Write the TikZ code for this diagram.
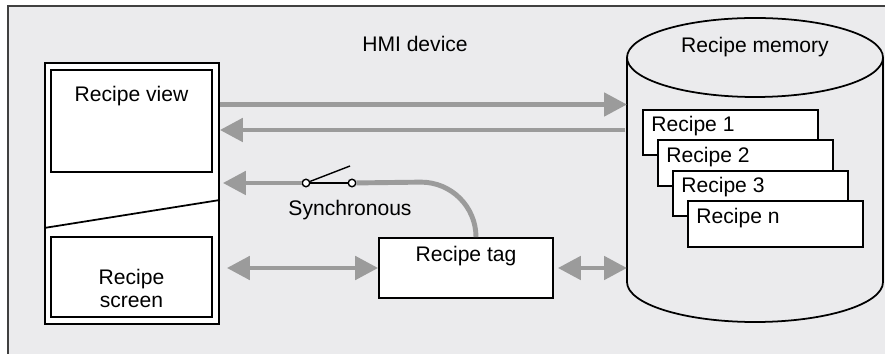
\documentclass[tikz,border=0pt]{standalone}
\usepackage{fontspec}
\setmainfont{Liberation Sans}
\usetikzlibrary{arrows.meta}
\definecolor{framebg}{RGB}{235,235,237}
\definecolor{flowgray}{RGB}{155,155,155}
\tikzset{
  box/.style={draw, line width=1pt, fill=white, inner sep=0pt},
  txt/.style={inner sep=0pt, anchor=base},
  flow/.style={draw=flowgray, line width=2.8pt},
  contact/.style={circle, draw, fill=white, inner sep=0pt, minimum size=0.15cm, line width=0.8pt}
}
\begin{document}
\begin{tikzpicture}[x=0.02cm, y=0.02cm, >={Triangle[length=0.46cm,width=0.46cm]},
  font=\fontsize{12}{13.6}\selectfont]
\useasboundingbox (0,0) rectangle (885,-354);

\draw[fill=framebg, draw=black!75, line width=0.8pt] (8,-6) rectangle (900,-370); % frame
\node[txt] (hmi) at (415,-52) {HMI device};

% operator device
\node[box, minimum width=3.48cm, minimum height=5.22cm] (device) at (132,-193.5) {};
\node[box, minimum width=3.22cm, minimum height=2.04cm] (view) at (131.5,-121) {};
\node[box, minimum width=3.22cm, minimum height=1.6cm] (screen) at (131.5,-277) {};
\draw[line width=1pt] ([yshift=-0.69cm]device.west) -- ([yshift=-0.13cm]device.east);
\node[txt] (viewtext) at (131.5,-101.5) {Recipe view};
\node[inner sep=0pt, align=center] (screentext) at (131.5,-288.5) {Recipe\\screen};

% memory
\draw[line width=1pt] (627,-57.5) -- (627,-282) arc[start angle=180, end angle=360, x radius=128, y radius=40] -- (883,-57.5);
\draw[line width=1pt] (755,-57.5) ellipse [x radius=128, y radius=39.5];
\coordinate (memory) at (627,-180);
\node[txt] (memtext) at (755,-53) {Recipe memory};

\foreach \k/\n in {0/1,1/2,2/3,3/n}{
  \node[box, anchor=north west, minimum width=3.5cm, minimum height=0.91cm] (rec\n) at (642+15*\k,-109-30.5*\k) {};
  \node[txt, anchor=base west] (rectext\n) at ([xshift=0.18cm,yshift=-0.46cm]rec\n.north west) {Recipe \n};
}

% recipe tag
\node[box, minimum width=3.48cm, minimum height=1.2cm] (tag) at (466,-268) {};
\node[txt] (tagtext) at (466,-262) {Recipe tag};

% transfers
\coordinate (lv1) at (0,-104.5);
\coordinate (lv2) at (0,-130);
\draw[flow,->] (device.east |- lv1) -- (memory |- lv1);
\draw[flow,->, shorten <=0.04cm] (memory |- lv2) -- (device.east |- lv2);
\draw[flow,<->, shorten <=0.14cm] (device.east |- tag.west) -- (tag.west);
\draw[flow,<->, shorten <=0.08cm] (tag.east) -- (memory |- tag.east);

% synchronous switch
\node[contact] (sw1) at (306,-183) {};
\node[contact] (sw2) at (352,-183) {};
\coordinate (blade) at (350,-166);
\draw[line width=0.8pt] (sw1) -- (sw2);
\draw[line width=0.8pt] (sw1) -- (blade);
\draw[flow,->, shorten >=0.06cm] (sw1) -- (device.east |- sw1);
\draw[flow] ([xshift=0.2cm]tag.north) arc[start angle=0, end angle=90, radius=55] -- (sw2);
\node[txt] (synctext) at (350,-215.5) {Synchronous};

\end{tikzpicture}
\end{document}
